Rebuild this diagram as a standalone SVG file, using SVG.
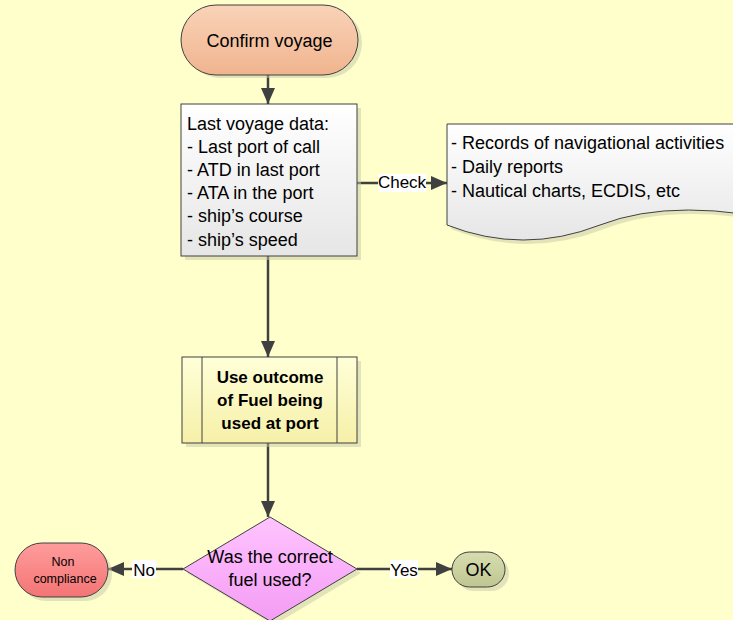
<svg xmlns="http://www.w3.org/2000/svg" width="733" height="620" viewBox="0 0 733 620">
<defs>
<linearGradient id="gOrange" x1="0" y1="0" x2="0" y2="1"><stop offset="0" stop-color="#F9D3B8"/><stop offset="1" stop-color="#F0B48E"/></linearGradient>
<linearGradient id="gGray" x1="0" y1="0" x2="0" y2="1"><stop offset="0" stop-color="#FFFFFF"/><stop offset="1" stop-color="#E6E6E6"/></linearGradient>
<linearGradient id="gYellow" x1="0" y1="0" x2="0" y2="1"><stop offset="0" stop-color="#FFFFD8"/><stop offset="1" stop-color="#F6F0A8"/></linearGradient>
<linearGradient id="gPink" x1="0" y1="0" x2="0" y2="1"><stop offset="0" stop-color="#FFC4FF"/><stop offset="1" stop-color="#F49CF4"/></linearGradient>
<linearGradient id="gRed" x1="0" y1="0" x2="0" y2="1"><stop offset="0" stop-color="#FF9C9C"/><stop offset="1" stop-color="#F47474"/></linearGradient>
<linearGradient id="gGreen" x1="0" y1="0" x2="0" y2="1"><stop offset="0" stop-color="#D8DDB0"/><stop offset="1" stop-color="#BFC690"/></linearGradient>
<marker id="arrBig" markerWidth="16" markerHeight="14" viewBox="0 0 16 14" refX="16" refY="7" orient="auto" markerUnits="userSpaceOnUse">
<path d="M0,0 L16,7 L0,14 Z" fill="#404040"/>
</marker>
</defs>
<style>
.shape{stroke:#404040;stroke-width:1}
.shadow{fill:#C8C8A8;opacity:0.5}
.t{font-family:"Liberation Sans",Arial,sans-serif;font-size:18px;fill:#000}
.b{font-weight:bold;font-size:17px}
.c{text-anchor:middle}
.s{font-size:12.5px}
.l{font-size:17px}
.conn{stroke:#404040;stroke-width:2.5;fill:none}
.lbl{fill:#FFFFFF}
</style>
<rect width="733" height="620" fill="#FFFFCC"/>

<g id="connectors">
<line class="conn" x1="268" y1="75" x2="268" y2="104" marker-end="url(#arrBig)"/>
<line class="conn" x1="357" y1="183" x2="447" y2="183" marker-end="url(#arrBig)"/>
<line class="conn" x1="268" y1="256" x2="268" y2="357" marker-end="url(#arrBig)"/>
<line class="conn" x1="268" y1="443" x2="268" y2="517" marker-end="url(#arrBig)"/>
<line class="conn" x1="183" y1="569" x2="108" y2="569" marker-end="url(#arrBig)"/>
<line class="conn" x1="357" y1="569" x2="452" y2="569" marker-end="url(#arrBig)"/>
<rect class="lbl" x="378" y="174" width="48" height="18"/>
<text class="t c l" x="402" y="188">Check</text>
<rect class="lbl" x="132" y="560" width="24" height="18"/>
<text class="t c l" x="144" y="576">No</text>
<rect class="lbl" x="390" y="560" width="28" height="18"/>
<text class="t c l" x="404" y="576">Yes</text>
</g>

<g id="confirm-voyage">
<rect class="shadow" x="185" y="8" width="177" height="70" rx="35"/>
<rect class="shape" x="181" y="5" width="177" height="70" rx="35" fill="url(#gOrange)"/>
<text class="t c" x="269.5" y="47">Confirm voyage</text>
</g>

<g id="last-voyage-data">
<rect class="shadow" x="185" y="108" width="176" height="152"/>
<rect class="shape" x="181" y="104" width="176" height="152" fill="url(#gGray)"/>
<text class="t" x="187" y="130">Last voyage data:</text>
<text class="t" x="187" y="153">- Last port of call</text>
<text class="t" x="187" y="176">- ATD in last port</text>
<text class="t" x="187" y="199">- ATA in the port</text>
<text class="t" x="187" y="222">- ship’s course</text>
<text class="t" x="187" y="246">- ship’s speed</text>
</g>

<g id="records-document">
<path class="shadow" d="M451,128 H800 V229 Q681,199 604,229 Q527,259 451,229 Z"/>
<path class="shape" d="M447,124 H800 V225 Q677,195 600,225 Q523,255 447,225 Z" fill="url(#gGray)"/>
<text class="t" x="451" y="149">- Records of navigational activities</text>
<text class="t" x="451" y="173">- Daily reports</text>
<text class="t" x="451" y="197">- Nautical charts, ECDIS, etc</text>
</g>

<g id="use-outcome">
<rect class="shadow" x="186" y="361" width="175" height="86"/>
<rect class="shape" x="182" y="357" width="175" height="86" fill="url(#gYellow)"/>
<line class="shape" x1="202" y1="357" x2="202" y2="443"/>
<line class="shape" x1="337" y1="357" x2="337" y2="443"/>
<text class="t b c" x="270" y="383">Use outcome</text>
<text class="t b c" x="270" y="406">of Fuel being</text>
<text class="t b c" x="270" y="429">used at port</text>
</g>

<g id="decision">
<path class="shadow" d="M274,521 L361,573 L274,625 L187,573 Z"/>
<path class="shape" d="M270,517 L357,569 L270,621 L183,569 Z" fill="url(#gPink)"/>
<text class="t c" x="270" y="563">Was the correct</text>
<text class="t c" x="270" y="586">fuel used?</text>
</g>

<g id="non-compliance">
<rect class="shadow" x="19" y="547" width="93" height="54" rx="27"/>
<rect class="shape" x="15" y="543" width="93" height="54" rx="27" fill="url(#gRed)"/>
<text class="t c s" x="63" y="566">Non</text>
<text class="t c s" x="65" y="583">compliance</text>
</g>

<g id="ok">
<rect class="shadow" x="456" y="556" width="53" height="35" rx="17.5"/>
<rect class="shape" x="452" y="552" width="53" height="35" rx="17.5" fill="url(#gGreen)"/>
<text class="t c" x="478.5" y="576">OK</text>
</g>
</svg>
